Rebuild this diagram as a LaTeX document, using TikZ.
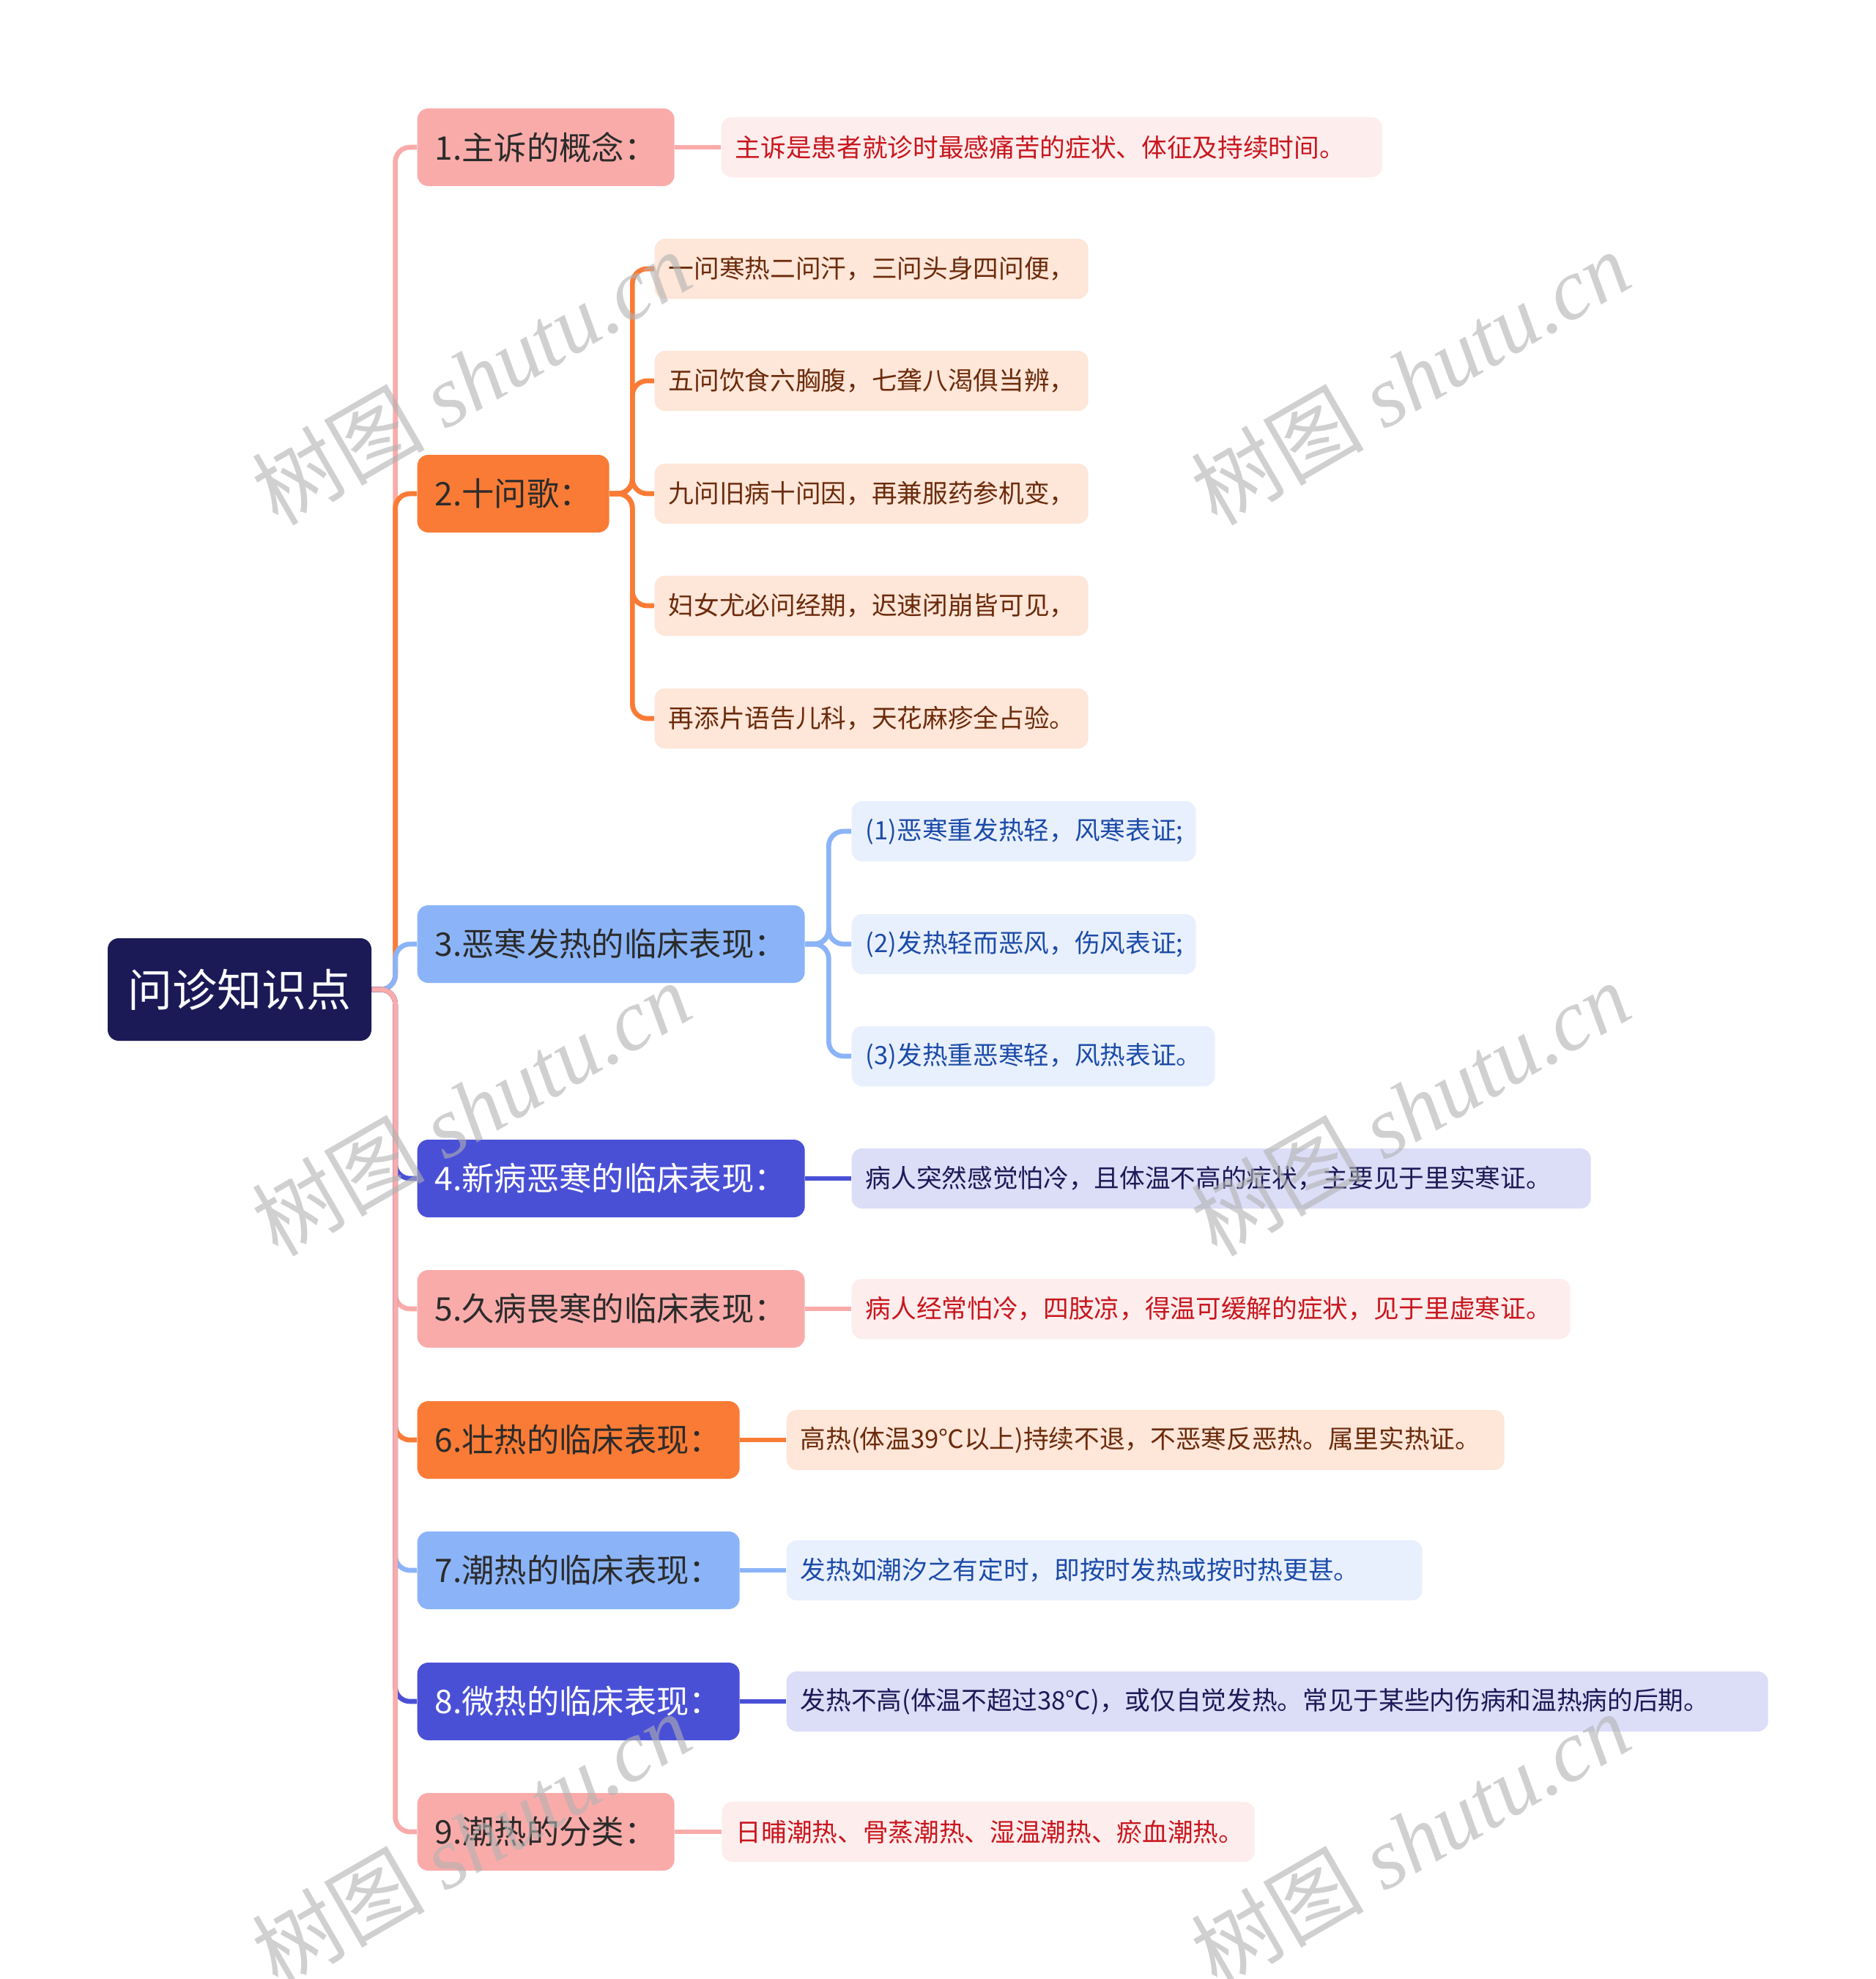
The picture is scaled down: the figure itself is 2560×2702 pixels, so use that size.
\documentclass[tikz,border=0pt]{standalone}
\usepackage{fontspec}
\setmainfont{Noto Sans CJK SC}
\newfontfamily\wmlatin{Liberation Serif}
\definecolor{navy}{HTML}{1B1A57}
\definecolor{pinkM}{HTML}{F9ABAA}
\definecolor{orangeM}{HTML}{FA7B35}
\definecolor{blueM}{HTML}{8BB4F8}
\definecolor{indigoM}{HTML}{4A50D6}
\definecolor{pinkC}{HTML}{FEEDED}
\definecolor{pinkT}{HTML}{C8161D}
\definecolor{orangeC}{HTML}{FEE6D8}
\definecolor{orangeT}{HTML}{6B2B0B}
\definecolor{blueC}{HTML}{E8F0FE}
\definecolor{blueT}{HTML}{1C4BA8}
\definecolor{indigoC}{HTML}{DCDDF7}
\definecolor{indigoT}{HTML}{1B1A57}
\definecolor{darkT}{HTML}{2B2B2B}
\pgfdeclarelayer{bottom}
\pgfdeclarelayer{lines}
\pgfdeclarelayer{top}
\pgfsetlayers{bottom,lines,main,top}
\begin{document}
\begin{tikzpicture}[x=0.3pt,y=-0.3pt,
  rootbox/.style={fill=navy, text=white, rounded corners=4.5pt, minimum width=108pt,
    minimum height=42pt, inner sep=0pt, font=\fontsize{18.3}{22}\selectfont},
  lvone/.style={rounded corners=4.5pt, minimum height=31.8pt, inner xsep=0pt, inner ysep=0pt,
    anchor=west, align=left, text=darkT, font=\fontsize{13.3}{16}\selectfont,
    execute at begin node={\hspace*{7.2pt}}},
  lvtwo/.style={rounded corners=4.2pt, minimum height=24.6pt, inner xsep=0pt, inner ysep=0pt,
    anchor=west, align=left, font=\fontsize{10.4}{12.5}\selectfont,
    execute at begin node={\hspace*{5.7pt}}},
  pinkkid/.style={lvtwo, fill=pinkC, text=pinkT},
  orangekid/.style={lvtwo, fill=orangeC, text=orangeT},
  bluekid/.style={lvtwo, fill=blueC, text=blueT},
  indigokid/.style={lvtwo, fill=indigoC, text=indigoT},
  conn/.style={line width=2pt, rounded corners=6pt},
  wm/.style={rotate=30, text=black!30, text opacity=0.6, inner sep=0pt,
    font=\fontsize{35.5}{40}\selectfont}
]
\begin{pgfonlayer}{bottom}
\fill[white] (0,0) rectangle (2560,2702);
\end{pgfonlayer}
\useasboundingbox (0,0) rectangle (2560,2702);

% root
\node[rootbox] (root) at (327,1351) {问诊知识点};

% level one
\node[lvone, fill=pinkM, text width=105.3pt] (n1) at (569,201) {1.主诉的概念：};
\node[lvone, fill=orangeM, text width=78.6pt] (n2) at (569,674) {2.十问歌：};
\node[lvone, fill=blueM, text width=158.7pt] (n3) at (569,1289) {3.恶寒发热的临床表现：};
\node[lvone, fill=indigoM, text=white, text width=158.7pt] (n4) at (569,1609) {4.新病恶寒的临床表现：};
\node[lvone, fill=pinkM, text width=158.7pt] (n5) at (569,1787) {5.久病畏寒的临床表现：};
\node[lvone, fill=orangeM, text width=132pt] (n6) at (569,1966) {6.壮热的临床表现：};
\node[lvone, fill=blueM, text width=132pt] (n7) at (569,2144) {7.潮热的临床表现：};
\node[lvone, fill=indigoM, text=white, text width=132pt] (n8) at (569,2323) {8.微热的临床表现：};
\node[lvone, fill=pinkM, text width=105.3pt] (n9) at (569,2501) {9.潮热的分类：};

% level two
\node[pinkkid, text width=270.6pt] (c1) at (984,201) {主诉是患者就诊时最感痛苦的症状、体征及持续时间。};
\node[orangekid, text width=177.6pt] (c21) at (893,367) {一问寒热二问汗，三问头身四问便，};
\node[orangekid, text width=177.6pt] (c22) at (893,520) {五问饮食六胸腹，七聋八渴俱当辨，};
\node[orangekid, text width=177.6pt] (c23) at (893,674) {九问旧病十问因，再兼服药参机变，};
\node[orangekid, text width=177.6pt] (c24) at (893,827) {妇女尤必问经期，迟速闭崩皆可见，};
\node[orangekid, text width=177.6pt] (c25) at (893,981) {再添片语告儿科，天花麻疹全占验。};
\node[bluekid, text width=141pt] (c31) at (1162,1135) {(1)恶寒重发热轻，风寒表证;};
\node[bluekid, text width=141pt] (c32) at (1162,1289) {(2)发热轻而恶风，伤风表证;};
\node[bluekid, text width=148.8pt] (c33) at (1162,1442) {(3)发热重恶寒轻，风热表证。};
\node[indigokid, text width=302.7pt] (c4) at (1162,1609) {病人突然感觉怕冷，且体温不高的症状，主要见于里实寒证。};
\node[pinkkid, text width=294.3pt] (c5) at (1162,1787) {病人经常怕冷，四肢凉，得温可缓解的症状，见于里虚寒证。};
\node[orangekid, text width=294pt] (c6) at (1073,1966) {高热(体温39℃以上)持续不退，不恶寒反恶热。属里实热证。};
\node[bluekid, text width=260.4pt] (c7) at (1073,2144) {发热如潮汐之有定时，即按时发热或按时热更甚。};
\node[indigokid, text width=402pt] (c8) at (1073,2323) {发热不高(体温不超过38℃)，或仅自觉发热。常见于某些内伤病和温热病的后期。};
\node[pinkkid, text width=218.1pt] (c9) at (985,2501) {日晡潮热、骨蒸潮热、湿温潮热、瘀血潮热。};

% connectors
\begin{pgfonlayer}{lines}
\draw[conn, pinkM] (root.east) -- ++(32,0) |- (n1.west);
\draw[conn, orangeM] (root.east) -- ++(32,0) |- (n2.west);
\draw[conn, blueM] (root.east) -- ++(32,0) |- (n3.west);
\draw[conn, indigoM] (root.east) -- ++(32,0) |- (n4.west);
\draw[conn, pinkM] (root.east) -- ++(32,0) |- (n5.west);
\draw[conn, orangeM] (root.east) -- ++(32,0) |- (n6.west);
\draw[conn, blueM] (root.east) -- ++(32,0) |- (n7.west);
\draw[conn, indigoM] (root.east) -- ++(32,0) |- (n8.west);
\draw[conn, pinkM] (root.east) -- ++(32,0) |- (n9.west);

\draw[conn, pinkM] (n1.east) -- (c1.west);
\foreach \k in {c21,c22,c23,c24,c25}
  \draw[conn, orangeM] (n2.east) -- ++(31,0) |- (\k.west);
\foreach \k in {c31,c32,c33}
  \draw[conn, blueM] (n3.east) -- ++(32,0) |- (\k.west);
\draw[conn, indigoM] (n4.east) -- (c4.west);
\draw[conn, pinkM] (n5.east) -- (c5.west);
\draw[conn, orangeM] (n6.east) -- (c6.west);
\draw[conn, blueM] (n7.east) -- (c7.west);
\draw[conn, indigoM] (n8.east) -- (c8.west);
\draw[conn, pinkM] (n9.east) -- (c9.west);
\end{pgfonlayer}

% watermarks
\begin{pgfonlayer}{top}
\node[wm] (wm1) at (643,515) {树图 {\wmlatin\itshape shutu.cn}};
\node[wm] (wm2) at (1925,515) {树图 {\wmlatin\itshape shutu.cn}};
\node[wm] (wm3) at (643,1513) {树图 {\wmlatin\itshape shutu.cn}};
\node[wm] (wm4) at (1925,1513) {树图 {\wmlatin\itshape shutu.cn}};
\node[wm] (wm5) at (643,2511) {树图 {\wmlatin\itshape shutu.cn}};
\node[wm] (wm6) at (1925,2511) {树图 {\wmlatin\itshape shutu.cn}};
\end{pgfonlayer}
\end{tikzpicture}
\end{document}
